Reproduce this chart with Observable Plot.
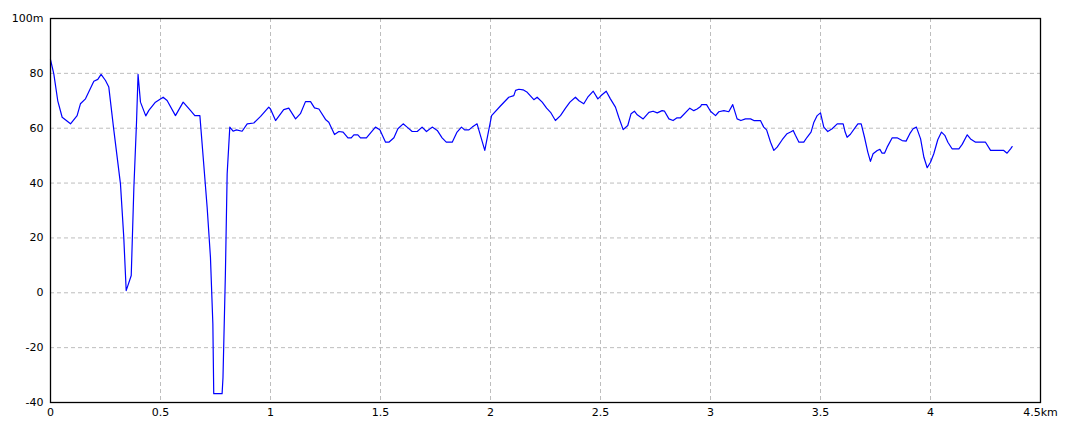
<!DOCTYPE html>
<html>
<head>
<meta charset="utf-8">
<script src="https://cdn.jsdelivr.net/npm/d3@7"></script>
<script src="https://cdn.jsdelivr.net/npm/@observablehq/plot@0.6"></script>
<style>
  html, body { margin: 0; padding: 0; background: #fff; }
  #chart svg { display: block; }
</style>
</head>
<body>
<div id="chart"></div>
<script>
const distanceKm = [0, 0.015, 0.033, 0.053, 0.091, 0.121, 0.136, 0.159, 0.197, 0.215, 0.230, 0.25, 0.265, 0.288, 0.318, 0.333, 0.344, 0.367, 0.379, 0.391, 0.398, 0.409, 0.433, 0.447, 0.477, 0.512, 0.53, 0.568, 0.603, 0.636, 0.656, 0.679, 0.694, 0.712, 0.727, 0.738, 0.742, 0.78, 0.784, 0.795, 0.803, 0.815, 0.83, 0.845, 0.871, 0.894, 0.924, 0.955, 0.992, 1.0, 1.023, 1.06, 1.083, 1.114, 1.136, 1.159, 1.182, 1.2, 1.22, 1.25, 1.265, 1.291, 1.311, 1.33, 1.352, 1.367, 1.379, 1.397, 1.409, 1.436, 1.477, 1.497, 1.523, 1.538, 1.561, 1.579, 1.603, 1.621, 1.644, 1.667, 1.689, 1.709, 1.735, 1.758, 1.78, 1.799, 1.826, 1.848, 1.868, 1.882, 1.902, 1.917, 1.939, 1.974, 2.005, 2.045, 2.083, 2.106, 2.114, 2.129, 2.148, 2.167, 2.197, 2.212, 2.235, 2.255, 2.273, 2.295, 2.318, 2.341, 2.361, 2.386, 2.402, 2.424, 2.442, 2.467, 2.488, 2.503, 2.526, 2.545, 2.568, 2.583, 2.603, 2.624, 2.639, 2.654, 2.667, 2.694, 2.72, 2.739, 2.758, 2.78, 2.791, 2.811, 2.83, 2.848, 2.864, 2.906, 2.924, 2.939, 2.955, 2.959, 2.982, 3.0, 3.023, 3.038, 3.061, 3.083, 3.101, 3.121, 3.138, 3.159, 3.182, 3.197, 3.227, 3.242, 3.255, 3.273, 3.288, 3.303, 3.326, 3.348, 3.364, 3.376, 3.386, 3.402, 3.424, 3.439, 3.457, 3.47, 3.485, 3.5, 3.515, 3.533, 3.553, 3.576, 3.603, 3.612, 3.621, 3.636, 3.659, 3.67, 3.685, 3.7, 3.715, 3.727, 3.739, 3.758, 3.77, 3.78, 3.791, 3.803, 3.826, 3.848, 3.871, 3.889, 3.906, 3.921, 3.936, 3.955, 3.97, 3.985, 4.0, 4.015, 4.033, 4.05, 4.065, 4.079, 4.098, 4.129, 4.144, 4.167, 4.182, 4.205, 4.25, 4.273, 4.333, 4.348, 4.364, 4.371];
const elevationM = [85, 79.8, 70, 64, 61.6, 64.6, 68.9, 70.7, 77.1, 77.8, 79.6, 77.4, 75, 59.2, 39.7, 20.3, 0.8, 6.3, 38.5, 62.2, 79.6, 69.5, 64.5, 66.5, 69.5, 71.3, 70.1, 64.6, 69.5, 66.5, 64.6, 64.6, 49.4, 31.2, 13, -11.3, -36.8, -36.8, -31, 6.9, 43.4, 60.4, 58.9, 59.4, 58.9, 61.6, 61.9, 64.3, 67.7, 67, 62.8, 66.8, 67.3, 63.4, 65.3, 69.7, 69.7, 67.4, 67, 63.2, 62.2, 57.7, 58.8, 58.6, 56.5, 56.5, 57.6, 57.6, 56.5, 56.5, 60.4, 59.4, 54.9, 54.9, 56.5, 59.8, 61.6, 60.4, 58.8, 58.8, 60.4, 58.8, 60.4, 59.2, 56.5, 54.9, 54.9, 58.6, 60.4, 59.4, 59.4, 60.4, 61.6, 51.9, 64.6, 68.1, 71.3, 71.9, 73.8, 74.2, 74.0, 73.1, 70.4, 71.3, 69.5, 67.3, 65.8, 62.8, 64.6, 67.3, 69.5, 71.3, 70, 68.9, 71.3, 73.5, 70.7, 71.9, 73.5, 70.7, 67.7, 64, 59.5, 61, 65.3, 66.2, 64.9, 63.4, 65.8, 66.2, 65.6, 66.4, 66.2, 63.4, 62.8, 63.8, 63.8, 67.3, 66.4, 67, 67.9, 68.6, 68.6, 66.2, 64.6, 66, 66.4, 66, 68.6, 63.4, 62.8, 63.4, 63.4, 62.8, 62.8, 60.4, 59.4, 54.9, 51.9, 53.1, 55.8, 58, 58.6, 59.2, 57.4, 54.9, 54.9, 56.7, 58.6, 62.2, 64.6, 65.6, 60.4, 58.8, 59.8, 61.6, 61.6, 58.6, 56.7, 57.8, 60.4, 61.6, 61.6, 56.7, 51.3, 47.9, 50.7, 51.9, 52.3, 50.9, 50.9, 53.1, 56.5, 56.5, 55.5, 55.3, 58, 59.8, 60.4, 56.1, 49.4, 45.6, 47.6, 50.7, 55.8, 58.6, 57.4, 54.9, 52.5, 52.5, 54.1, 57.6, 56.1, 54.9, 54.9, 51.9, 51.9, 50.9, 52.5, 53.3];
const xTicks = [0, 0.5, 1, 1.5, 2, 2.5, 3, 3.5, 4, 4.5];
const yTicks = [-40, -20, 0, 20, 40, 60, 80, 100];
const xGrid = [0.5, 1, 1.5, 2, 2.5, 3, 3.5, 4];
const yGrid = [-20, 0, 20, 40, 60, 80];

const data = distanceKm.map((d, i) => ({d, e: elevationM[i]}));

const chart = Plot.plot({
  width: 1080,
  height: 432,
  marginLeft: 50,
  marginRight: 40,
  marginTop: 18,
  marginBottom: 30,
  style: {fontFamily: "'DejaVu Sans', sans-serif", fontSize: "11px", color: "#000", background: "#fff"},
  x: {domain: [0, 4.5], ticks: xTicks, tickFormat: d => d === 4.5 ? "4.5km" : String(d), tickSize: 0, tickPadding: 6, label: null},
  y: {domain: [-40, 100], ticks: yTicks, tickFormat: d => d === 100 ? "100m" : String(d), tickSize: 0, tickPadding: 7, label: null},
  marks: [
    Plot.ruleX(xGrid, {stroke: "#bdbdbd", strokeDasharray: "4,3", strokeWidth: 1}),
    Plot.ruleY(yGrid, {stroke: "#bdbdbd", strokeDasharray: "4,3", strokeWidth: 1}),
    Plot.line(data, {x: "d", y: "e", stroke: "#0000ff", strokeWidth: 1.2}),
    Plot.frame({stroke: "#000", strokeWidth: 1.3})
  ]
});
document.getElementById("chart").appendChild(chart);
</script>
</body>
</html>
